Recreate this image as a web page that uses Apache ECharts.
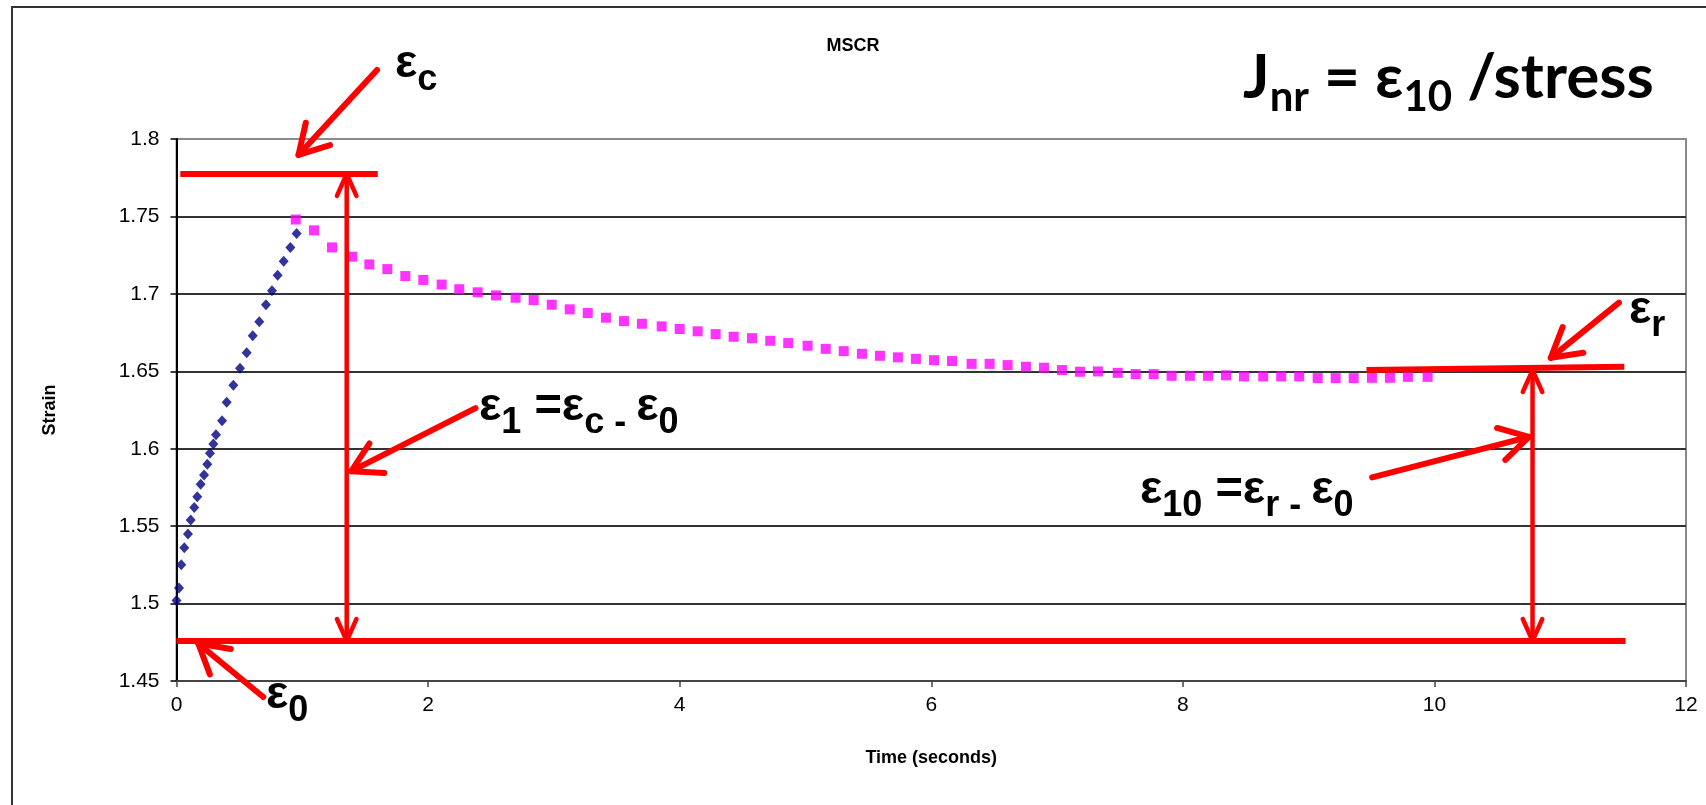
<!DOCTYPE html>
<html>
<head>
<meta charset="utf-8">
<title>MSCR</title>
<script src="https://cdn.jsdelivr.net/npm/echarts@6/dist/echarts.min.js"></script>
<style>
  html, body { margin: 0; padding: 0; background: #fff; }
  #chart { width: 1706px; height: 805px; }
</style>
</head>
<body>
<div id="chart"></div>
<script>
// loading part (blue diamonds), time in s / strain
const loadTime = [0, 0.02, 0.038, 0.062, 0.091, 0.113, 0.141, 0.165, 0.192, 0.219, 0.245, 0.266, 0.293, 0.314,
  0.362, 0.399, 0.452, 0.505, 0.558, 0.606, 0.658, 0.711, 0.759, 0.804, 0.852, 0.905, 0.955]
const loadStrain = [1.502, 1.510, 1.525, 1.536, 1.545, 1.554, 1.562, 1.569, 1.577, 1.583, 1.590, 1.597, 1.603, 1.609,
  1.618, 1.630, 1.641, 1.652, 1.662, 1.673, 1.682, 1.693, 1.702, 1.712, 1.721, 1.730, 1.739]

// recovery part (pink squares)
const recTime = [0.948, 1.093, 1.236, 1.397, 1.533, 1.676, 1.819, 1.962, 2.108, 2.248, 2.394, 2.540, 2.696, 2.839,
  2.983, 3.126, 3.269, 3.414, 3.557, 3.700, 3.857, 4.000, 4.143, 4.286, 4.429, 4.575, 4.720, 4.863, 5.017, 5.161,
  5.304, 5.449, 5.592, 5.735, 5.878, 6.022, 6.165, 6.321, 6.464, 6.607, 6.753, 6.896, 7.039, 7.182, 7.325, 7.482,
  7.625, 7.768, 7.911, 8.056, 8.200, 8.343, 8.486, 8.639, 8.782, 8.925, 9.072, 9.215, 9.358, 9.503, 9.646, 9.789, 9.946]
const recStrain = [1.748, 1.741, 1.730, 1.724, 1.719, 1.716, 1.7115, 1.709, 1.706, 1.703, 1.701, 1.699, 1.6975, 1.696,
  1.693, 1.690, 1.6876, 1.6846, 1.6824, 1.6807, 1.679, 1.6773, 1.6758, 1.674, 1.6723, 1.6714, 1.6697, 1.6682, 1.6665, 1.6645,
  1.663, 1.6613, 1.660, 1.659, 1.658, 1.6572, 1.6566, 1.6548, 1.6548, 1.654, 1.6529, 1.6523, 1.6508, 1.6497, 1.6499, 1.649,
  1.6482, 1.6482, 1.6471, 1.6471, 1.6471, 1.6474, 1.6467, 1.6467, 1.6467, 1.6467, 1.6456, 1.6456, 1.6456, 1.6458, 1.6458, 1.6464, 1.6464]

const xTicks = [0, 2, 4, 6, 8, 10, 12]
const yTicks = [1.45, 1.5, 1.55, 1.6, 1.65, 1.7, 1.75, 1.8]

// red annotation segments in data units: [x1, y1, x2, y2]
const levelLines = [
  [0.03, 1.7774, 1.6, 1.7774],   // eps c
  [0, 1.4759, 11.52, 1.4759],    // eps 0
  [9.46, 1.6508, 11.51, 1.6529]  // eps r
]
const spanArrows = [
  [1.353, 1.4759, 1.353, 1.7774],
  [10.78, 1.4759, 10.78, 1.6508]
]
const pointers = [
  [1.594, 1.8446, 0.970, 1.7897],
  [2.377, 1.6262, 1.390, 1.5855],
  [0.690, 1.4397, 0.173, 1.4742],
  [11.467, 1.6943, 10.925, 1.6587],
  [9.505, 1.5815, 10.751, 1.6077]
]

const RED = '#ff0000'

function chevron(tip, from, len, ang, width) {
  const dx = from[0] - tip[0]
  const dy = from[1] - tip[1]
  const d = Math.sqrt(dx * dx + dy * dy) || 1
  const ux = dx / d
  const uy = dy / d
  const rot = (a) => [tip[0] + len * (ux * Math.cos(a) - uy * Math.sin(a)), tip[1] + len * (ux * Math.sin(a) + uy * Math.cos(a))]
  return {
    type: 'polyline',
    shape: { points: [rot(ang), tip, rot(-ang)] },
    style: { stroke: RED, lineWidth: width, fill: null, lineCap: 'round', lineJoin: 'round' }
  }
}

function segmentRenderer(width, heads, headLen, headAng) {
  return function(params, api) {
    const a = api.coord([api.value(0), api.value(1)])
    const b = api.coord([api.value(2), api.value(3)])
    const children = [{
      type: 'line',
      shape: { x1: a[0], y1: a[1], x2: b[0], y2: b[1] },
      style: { stroke: RED, lineWidth: width, lineCap: heads ? 'round' : 'butt' }
    }]
    if (heads >= 1) children.push(chevron(b, a, headLen, headAng, width))
    if (heads >= 2) children.push(chevron(a, b, headLen, headAng, width))
    return { type: 'group', children }
  }
}

const eqRich = {
  m: { fontFamily: 'Liberation Sans', fontWeight: 'bold', fontSize: 47, lineHeight: 47, verticalAlign: 'top', fill: '#000' },
  s: { fontFamily: 'Liberation Sans', fontWeight: 'bold', fontSize: 36, lineHeight: 36, verticalAlign: 'top', padding: [21, 0, 0, 0], fill: '#000' },
  jm: { fontFamily: 'Lato', fontWeight: 'bold', fontSize: 62, lineHeight: 62, verticalAlign: 'top', fill: '#000' },
  js: { fontFamily: 'Lato', fontWeight: 'bold', fontSize: 42, lineHeight: 42, verticalAlign: 'top', padding: [29, 0, 0, 0], fill: '#000' }
}

function note(text, left, top) {
  return { type: 'text', left, top, z: 100, silent: true, style: { text, rich: eqRich } }
}

const chart = echarts.init(document.getElementById('chart'))
chart.setOption({
  backgroundColor: '#ffffff',
  animation: false,
  title: {
    text: 'MSCR',
    left: 'center',
    top: 32,
    textStyle: { fontFamily: 'Liberation Sans', fontWeight: 'bold', fontSize: 18, color: '#000' }
  },
  grid: {
    left: 176.5,
    right: 20,
    top: 139,
    bottom: 124,
    show: true,
    borderColor: '#8a8a8a',
    borderWidth: 2,
    backgroundColor: 'transparent'
  },
  xAxis: {
    type: 'value',
    min: xTicks[0],
    max: xTicks[xTicks.length - 1],
    interval: 2,
    name: 'Time (seconds)',
    nameLocation: 'middle',
    nameGap: 68,
    nameTextStyle: { fontFamily: 'Liberation Sans', fontWeight: 'bold', fontSize: 18, color: '#000' },
    axisLine: { lineStyle: { color: '#444', width: 2 } },
    axisTick: { show: true, length: 6, lineStyle: { color: '#444', width: 1.5 } },
    axisLabel: { margin: 14, fontFamily: 'Liberation Sans', fontSize: 21, color: '#000' },
    splitLine: { show: false }
  },
  yAxis: {
    type: 'value',
    min: yTicks[0],
    max: yTicks[yTicks.length - 1],
    interval: 0.05,
    name: 'Strain',
    nameLocation: 'middle',
    nameGap: 117,
    nameRotate: 90,
    nameTextStyle: { fontFamily: 'Liberation Sans', fontWeight: 'bold', fontSize: 18, color: '#000' },
    axisLine: { show: true, lineStyle: { color: '#000', width: 2 } },
    axisTick: { show: true, length: 6, lineStyle: { color: '#000', width: 1.5 } },
    axisLabel: {
      margin: 17,
      fontFamily: 'Liberation Sans',
      fontSize: 21,
      color: '#000',
      formatter: (v) => String(Number(v.toFixed(2)))
    },
    splitLine: { show: true, showMinLine: false, showMaxLine: false, lineStyle: { color: '#333', width: 2 } }
  },
  graphic: [
    { type: 'polyline', silent: true, shape: { points: [[12, 805], [12, 7], [1706, 7]] }, style: { stroke: '#333', lineWidth: 2, fill: null } },
    note('{m|ε}{s|c}', 395, 41),
    note('{m|ε}{s|0}', 266, 672),
    note('{m|ε}{s|1}{m| =ε}{s|c - }{m|ε}{s|0}', 479, 384),
    note('{m|ε}{s|10}{m| =ε}{s|r - }{m|ε}{s|0}', 1140, 467),
    note('{m|ε}{s|r}', 1629, 287),
    note('{jm|J}{js|nr}{jm| = ε}{js|10}{jm| /stress}', 1243, 47)
  ],
  series: [
    {
      type: 'scatter',
      name: 'loading',
      symbol: 'diamond',
      symbolSize: [10, 11],
      itemStyle: { color: '#000080' },
      data: loadTime.map((t, i) => [t, loadStrain[i]])
    },
    {
      type: 'scatter',
      name: 'recovery',
      symbol: 'rect',
      symbolSize: 10,
      itemStyle: { color: '#ff00ff' },
      data: recTime.map((t, i) => [t, recStrain[i]])
    },
    {
      type: 'custom',
      silent: true,
      z: 5,
      renderItem: segmentRenderer(6, 0),
      data: levelLines
    },
    {
      type: 'custom',
      silent: true,
      z: 5,
      renderItem: segmentRenderer(4.5, 2, 24, Math.PI / 7.5),
      data: spanArrows
    },
    {
      type: 'custom',
      silent: true,
      z: 5,
      renderItem: segmentRenderer(6, 1, 33, Math.PI / 6),
      data: pointers
    }
  ]
})
</script>
</body>
</html>
